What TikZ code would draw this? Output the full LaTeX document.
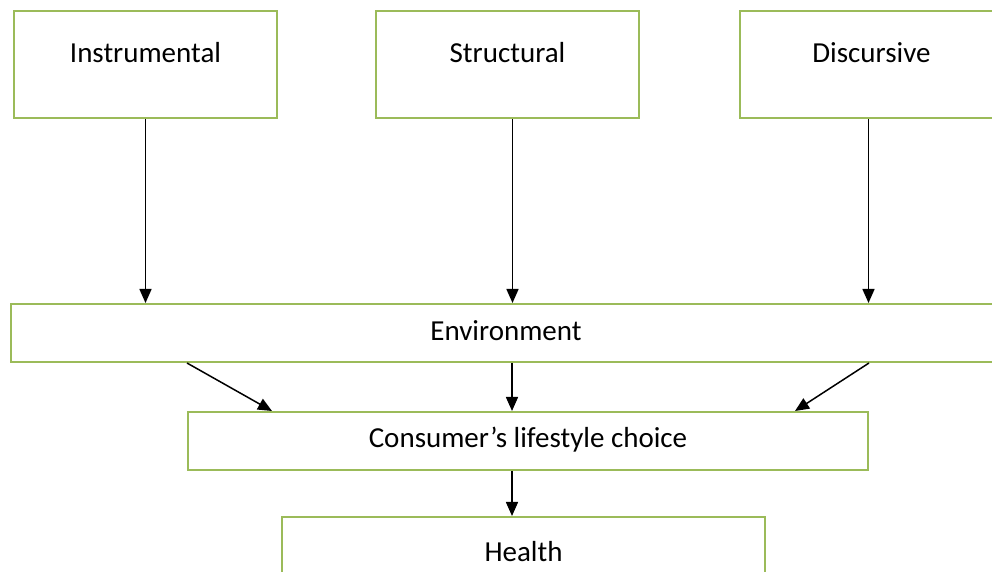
\documentclass[tikz,border=0pt]{standalone}
\usepackage{fontspec}
\setmainfont{Carlito}
\usetikzlibrary{arrows.meta}
\definecolor{boxgreen}{RGB}{155,187,89}

\begin{document}
\begin{tikzpicture}[x=0.5pt,y=-0.5pt,
    font=\fontsize{14.5}{17}\selectfont,
    topbox/.style={draw=boxgreen,line width=1pt,anchor=north west,inner sep=0pt,
      minimum width=131.5pt,text height=26pt,text depth=27.5pt},
    flatbox/.style={draw=boxgreen,line width=1pt,anchor=north west,inner sep=0pt},
    arr/.style={line width=0.75pt,-{Triangle[length=7pt,width=6pt]}}]
  \useasboundingbox (0,0) rectangle (992,572);
  \node[topbox] (instr) at (13,10) {Instrumental};
  \node[topbox] (struct) at (375,10) {Structural};
  \node[topbox] (discur) at (739,10) {Discursive};
  \node[flatbox,minimum width=495pt,text height=18.5pt,text depth=10.5pt] (env) at (10,303) {Environment};
  \node[flatbox,minimum width=340pt,text height=18pt,text depth=11pt] (cons) at (187,411) {Consumer’s lifestyle choice};
  \node[flatbox,minimum width=241.5pt,text height=22pt,text depth=7pt] (health) at (281,516) {Health};
  \draw[arr] (instr.south) -- (instr.south |- env.north);
  \draw[arr] ([xshift=2.5pt]struct.south) -- ([xshift=2.5pt]struct.south |- env.north);
  \draw[arr] ([xshift=-1.5pt]discur.south) -- ([xshift=-1.5pt]discur.south |- env.north);
  \draw[arr] ([xshift=88.5pt]env.south west) -- ([xshift=42.5pt]cons.north west);
  \draw[arr] ([xshift=-8pt]cons.north |- env.south) -- ([xshift=-8pt]cons.north);
  \draw[arr] (cons.north east |- env.south) -- ([xshift=-37pt]cons.north east);
  \draw[arr] ([xshift=-8pt]cons.south) -- ([xshift=-8pt]cons.south |- health.north);
\end{tikzpicture}
\end{document}
